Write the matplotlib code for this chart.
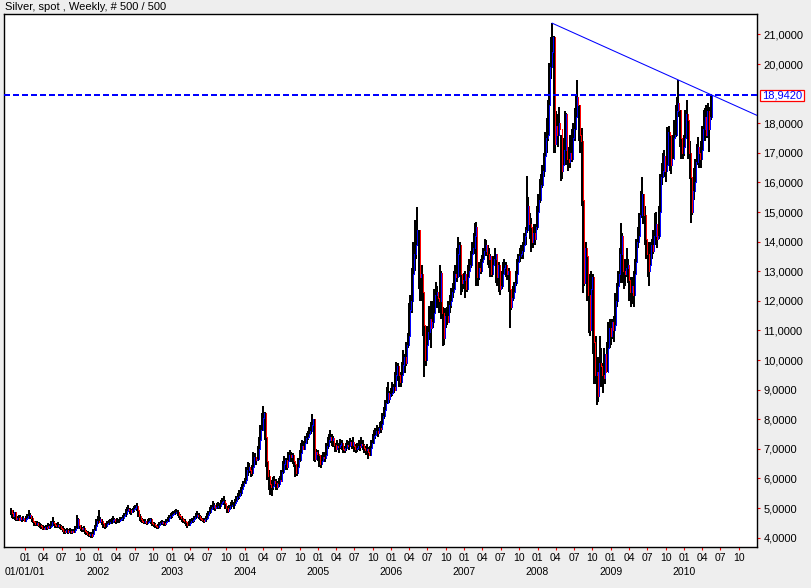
import numpy as np
import pandas as pd
import matplotlib
matplotlib.use('Agg')
import matplotlib.pyplot as plt
from matplotlib.patches import Rectangle

plt.rcParams['font.family'] = ['Liberation Sans', 'DejaVu Sans']

# weekly bars (high, low, close), weeks ending on Friday, first week 2000-10-20
w2000 = [(5.00,4.78,4.82),(4.90,4.66,4.72),(4.95,4.62,4.86),(4.86,4.60,4.64),(4.75,4.58,4.68),(4.72,4.55,4.60),
         (4.78,4.56,4.70),(4.76,4.58,4.62),(4.70,4.52,4.66),(4.72,4.55,4.58),(4.68,4.52,4.62)]
w2001 = [(4.72,4.55,4.66),(4.80,4.60,4.75),(4.95,4.68,4.78),(4.84,4.62,4.66),(4.72,4.52,4.58),(4.64,4.48,4.52),(4.58,4.40,4.46),(4.55,4.38,4.50),(4.56,4.40,4.44),(4.52,4.36,4.42),
         (4.50,4.32,4.38),(4.46,4.28,4.34),(4.42,4.26,4.30),(4.40,4.25,4.36),(4.44,4.28,4.34),(4.42,4.27,4.38),(4.48,4.30,4.36),(4.45,4.30,4.40),(4.58,4.36,4.52),(4.70,4.45,4.50),
         (4.58,4.38,4.42),(4.50,4.33,4.38),(4.48,4.32,4.44),(4.52,4.34,4.38),(4.46,4.30,4.34),(4.42,4.26,4.30),(4.38,4.20,4.24),(4.32,4.14,4.18),(4.30,4.12,4.26),(4.34,4.16,4.20),
         (4.30,4.12,4.24),(4.32,4.15,4.18),(4.28,4.12,4.22),(4.30,4.14,4.20),(4.30,4.15,4.26),(4.40,4.20,4.34),(4.76,4.30,4.62),(4.65,4.38,4.44),(4.50,4.28,4.34),(4.42,4.22,4.28),
         (4.36,4.18,4.32),(4.40,4.20,4.24),(4.32,4.14,4.18),(4.26,4.08,4.14),(4.22,4.05,4.10),(4.18,4.02,4.12),(4.20,4.00,4.06),(4.16,3.98,4.12),(4.30,4.08,4.26),(4.42,4.22,4.40),
         (4.62,4.36,4.55),(4.74,4.45,4.52)]
w2002 = [(4.92,4.55,4.62),(4.70,4.50,4.55),(4.62,4.42,4.48),(4.55,4.32,4.38),(4.46,4.30,4.40),(4.50,4.34,4.46),(4.55,4.38,4.50),(4.60,4.42,4.54),(4.62,4.45,4.52),(4.66,4.46,4.60),
         (4.72,4.52,4.64),(4.68,4.48,4.55),(4.62,4.46,4.58),(4.66,4.50,4.56),(4.64,4.48,4.60),(4.70,4.52,4.62),(4.70,4.55,4.66),(4.76,4.58,4.72),(4.85,4.64,4.80),(4.96,4.70,4.90),
         (5.05,4.80,4.98),(5.10,4.86,4.92),(5.02,4.80,4.86),(4.98,4.78,4.94),(5.02,4.84,4.96),(5.08,4.88,5.02),(5.12,4.92,5.06),(5.17,4.90,4.94),(4.98,4.70,4.74),(4.80,4.58,4.64),
         (4.72,4.52,4.58),(4.66,4.48,4.52),(4.62,4.45,4.56),(4.64,4.46,4.50),(4.58,4.42,4.54),(4.62,4.46,4.58),(4.68,4.50,4.62),(4.66,4.46,4.50),(4.56,4.40,4.46),(4.52,4.36,4.42),
         (4.50,4.32,4.38),(4.44,4.28,4.36),(4.46,4.30,4.42),(4.52,4.36,4.48),(4.58,4.42,4.54),(4.60,4.44,4.50),(4.56,4.40,4.46),(4.56,4.40,4.52),(4.62,4.46,4.58),(4.70,4.52,4.66),
         (4.78,4.60,4.72),(4.82,4.64,4.76)]
w2003 = [(4.86,4.66,4.80),(4.90,4.72,4.84),(4.94,4.76,4.88),(4.98,4.80,4.86),(4.92,4.72,4.78),(4.86,4.66,4.72),(4.80,4.60,4.66),(4.72,4.54,4.60),(4.66,4.48,4.56),(4.64,4.46,4.52),
         (4.58,4.38,4.42),(4.50,4.34,4.44),(4.56,4.40,4.48),(4.62,4.44,4.56),(4.66,4.48,4.60),(4.68,4.50,4.64),(4.74,4.54,4.70),(4.84,4.62,4.78),(4.90,4.70,4.74),(4.82,4.62,4.68),
         (4.78,4.60,4.64),(4.72,4.56,4.60),(4.68,4.52,4.58),(4.66,4.50,4.62),(4.72,4.54,4.66),(4.82,4.60,4.76),(4.90,4.70,4.86),(5.05,4.80,4.98),(5.12,4.88,5.04),(5.24,4.96,5.10),
         (5.18,4.94,5.02),(5.10,4.90,5.04),(5.16,4.96,5.08),(5.20,4.98,5.06),(5.18,4.96,5.14),(5.28,5.04,5.20),(5.34,5.10,5.24),(5.40,5.12,5.18),(5.26,4.96,5.00),(5.06,4.82,4.90),
         (5.02,4.84,4.96),(5.12,4.90,5.06),(5.20,4.98,5.12),(5.26,5.04,5.10),(5.20,4.98,5.16),(5.30,5.08,5.24),(5.42,5.16,5.36),(5.50,5.26,5.40),(5.62,5.32,5.52),(5.72,5.42,5.64),
         (5.82,5.50,5.74),(5.92,5.62,5.86)]
w2004 = [(6.02,5.80,5.96),(6.40,5.94,6.30),(6.55,6.10,6.40),(6.52,6.20,6.30),(6.40,6.05,6.20),(6.46,6.10,6.40),(6.90,6.36,6.72),(6.86,6.50,6.62),(6.70,6.45,6.66),(7.10,6.60,6.98),
         (7.40,6.95,7.30),(7.80,7.25,7.65),(8.20,7.60,8.05),(8.45,7.90,8.20),(8.25,7.30,7.40),(7.45,6.40,6.60),(6.90,5.95,6.10),(6.30,5.60,5.80),(6.10,5.45,5.70),(5.95,5.42,5.75),
         (6.05,5.62,5.90),(6.08,5.70,5.85),(5.98,5.62,5.72),(5.92,5.60,5.82),(6.02,5.70,5.96),(6.10,5.80,5.92),(6.30,5.88,6.22),(6.60,6.15,6.50),(6.75,6.35,6.62),(6.70,6.30,6.40),
         (6.66,6.30,6.58),(6.90,6.50,6.78),(6.95,6.60,6.72),(6.88,6.55,6.80),(6.86,6.50,6.60),(6.70,6.40,6.48),(6.50,6.06,6.20),(6.45,6.10,6.38),(6.70,6.35,6.62),(6.95,6.55,6.86),
         (7.20,6.80,7.10),(7.30,6.90,7.00),(7.28,6.95,7.20),(7.45,7.10,7.36),(7.55,7.15,7.40),(7.62,7.30,7.50),(7.75,7.40,7.62),(7.90,7.50,7.80),(8.18,7.70,8.00),(8.02,6.60,6.66),
         (7.00,6.55,6.90),(7.00,6.70,6.82),(6.95,6.60,6.78)]
w2005 = [(6.82,6.40,6.50),(6.70,6.34,6.60),(6.80,6.50,6.72),(6.90,6.62,6.70),(6.88,6.55,6.80),(7.20,6.75,7.10),(7.40,7.00,7.30),(7.50,7.15,7.40),(7.64,7.20,7.30),(7.50,7.10,7.36),
         (7.45,7.05,7.12),(7.20,6.90,7.00),(7.18,6.88,7.10),(7.30,6.95,7.05),(7.20,6.85,7.12),(7.35,7.00,7.20),(7.30,6.95,7.00),(7.12,6.86,6.96),(7.10,6.85,7.02),(7.20,6.92,7.14),
         (7.30,7.00,7.10),(7.25,6.95,7.22),(7.36,7.05,7.12),(7.30,7.00,7.24),(7.40,7.05,7.10),(7.20,6.90,6.98),(7.15,6.85,7.04),(7.20,6.90,7.10),(7.30,6.95,7.05),(7.25,6.92,7.18),
         (7.40,7.05,7.12),(7.30,6.95,7.02),(7.15,6.85,6.95),(7.10,6.80,7.00),(7.15,6.82,6.88),(7.05,6.65,6.80),(7.10,6.75,7.02),(7.30,6.95,7.20),(7.50,7.15,7.42),(7.65,7.30,7.48),
         (7.70,7.35,7.60),(7.80,7.45,7.55),(7.75,7.40,7.70),(7.90,7.55,7.68),(7.95,7.55,7.85),(8.20,7.80,8.10),(8.40,8.00,8.30),(8.65,8.20,8.55),(9.10,8.50,8.90),(9.27,8.60,8.70),
         (8.95,8.55,8.85),(9.05,8.75,8.90)]
w2006 = [(9.25,8.80,9.10),(9.20,8.90,9.00),(9.60,8.95,9.50),(9.95,9.30,9.80),(9.90,9.30,9.50),(9.70,9.10,9.25),(9.60,9.10,9.50),(9.95,9.40,9.85),(10.34,9.60,10.10),(10.20,9.55,9.90),
         (10.60,9.80,10.50),(10.90,10.40,10.80),(11.92,10.70,11.70),(12.20,11.50,12.00),(13.10,11.60,12.90),(14.00,12.40,13.60),(14.72,13.00,13.90),(14.70,13.40,14.40),(15.18,13.90,14.40),(14.40,12.40,12.80),
         (13.40,12.00,12.90),(13.20,12.00,12.30),(12.40,10.80,11.20),(11.30,9.44,10.00),(10.70,9.80,10.50),(11.14,10.10,10.95),(11.81,10.68,11.40),(11.80,10.80,11.10),(12.00,10.40,11.30),(12.00,11.10,11.60),
         (12.40,11.60,12.20),(12.65,11.90,12.30),(12.50,11.75,12.10),(12.30,11.60,12.00),(13.22,11.90,12.94),(13.00,11.40,11.60),(11.80,10.46,10.74),(11.75,10.50,11.50),(11.75,11.10,11.50),(11.80,11.20,11.30),
         (12.00,11.30,11.85),(12.20,11.60,12.00),(12.43,11.75,12.30),(12.60,12.10,12.40),(13.00,12.30,12.90),(13.20,12.60,12.80),(13.80,12.65,13.60),(14.17,13.40,13.90),(14.00,12.80,12.90),(13.20,12.20,12.60),
         (12.90,12.30,12.70),(12.95,12.40,12.90)]
w2007 = [(13.00,12.10,12.40),(12.90,12.30,12.80),(13.20,12.70,13.00),(13.40,12.90,13.20),(13.70,13.10,13.60),(14.00,13.40,13.80),(14.30,13.60,14.20),(14.62,14.00,14.50),(14.67,12.50,12.80),(13.30,12.50,13.10),
         (13.30,12.70,13.00),(13.40,12.90,13.30),(13.55,13.00,13.40),(13.80,13.30,13.70),(14.10,13.50,13.90),(14.05,13.50,13.60),(13.90,13.20,13.40),(13.80,13.10,13.50),(13.60,12.80,12.90),(13.30,12.80,13.20),
         (13.50,13.00,13.40),(13.80,13.20,13.60),(13.60,12.60,12.80),(13.30,12.50,13.20),(13.30,12.30,12.40),(12.90,12.20,12.50),(13.00,12.40,12.90),(13.30,12.80,13.10),(13.40,12.90,13.20),(13.30,12.80,12.90),
         (13.20,12.70,13.00),(13.10,12.30,12.40),(12.60,11.08,11.80),(12.30,11.70,12.10),(12.50,12.00,12.30),(12.65,12.10,12.60),(13.00,12.50,12.90),(13.40,12.90,13.30),(13.60,13.20,13.50),(13.80,13.30,13.60),
         (13.90,13.40,13.70),(14.00,13.40,13.90),(14.30,13.80,14.20),(14.50,13.90,14.40),(16.22,14.30,15.20),(15.52,14.40,14.60),(14.96,14.10,14.50),(14.80,13.66,14.00),(14.50,13.80,14.30),(14.60,13.90,14.10),
         (14.60,13.90,14.50),(15.20,14.40,15.00)]
w2008 = [(15.60,14.90,15.40),(16.10,15.30,15.90),(16.30,15.50,15.90),(16.60,15.80,16.40),(17.00,16.20,16.90),(17.70,16.80,17.50),(18.17,17.00,17.60),(18.80,17.40,18.60),(20.03,18.50,19.90),(20.90,19.50,20.40),
         (21.38,20.20,20.90),(20.93,17.00,17.30),(18.60,17.00,17.90),(18.40,17.40,17.60),(18.30,17.20,18.00),(18.56,17.60,17.80),(17.60,16.04,16.40),(16.90,16.10,16.60),(17.50,16.50,17.10),(18.40,16.90,18.30),
         (18.34,16.60,16.80),(17.20,16.40,16.70),(17.20,16.50,17.00),(17.60,16.50,16.80),(17.80,16.70,17.50),(18.00,17.20,17.80),(18.50,17.40,18.20),(19.00,18.00,18.90),(19.46,18.40,18.60),(18.60,17.40,17.60),
         (18.00,17.00,17.40),(17.85,15.20,15.40),(15.70,12.25,12.60),(14.10,12.50,13.80),(14.00,13.20,13.50),(13.60,12.00,12.20),(12.60,10.90,11.00),(12.90,10.80,12.40),(13.00,12.10,12.80),(12.90,10.20,10.60),
         (11.20,9.20,9.50),(10.80,9.20,9.60),(9.90,8.48,8.80),(10.10,8.60,9.90),(10.80,9.40,9.80),(10.40,9.10,9.50),(9.90,8.90,9.40),(10.40,9.20,10.20),(10.20,9.20,9.60),(10.60,9.60,10.40),
         (11.30,10.30,11.10),(11.40,10.40,10.80)]
w2009 = [(11.40,10.50,11.30),(11.40,10.70,11.00),(11.50,10.60,11.20),(12.25,11.10,12.00),(12.60,11.80,12.50),(13.00,12.20,12.90),(13.80,12.60,13.60),(14.62,13.40,14.20),(14.30,12.60,13.00),(13.30,12.40,12.90),
         (13.40,12.50,13.10),(13.80,12.80,13.20),(13.40,12.60,12.70),(13.00,12.00,12.30),(12.80,11.80,12.50),(12.80,11.90,12.20),(13.00,11.80,12.90),(13.40,12.40,13.30),(14.10,13.20,14.00),(14.50,13.80,14.20),
         (14.96,14.00,14.90),(15.70,14.80,15.60),(16.20,15.40,15.60),(15.60,14.60,14.90),(15.20,13.90,14.10),(14.30,13.40,13.60),(14.00,12.80,13.00),(13.40,12.50,13.20),(14.00,13.20,13.90),(14.10,13.40,13.70),
         (14.40,13.60,14.20),(14.96,14.00,14.60),(15.00,13.90,14.10),(14.40,13.80,14.20),(15.20,14.10,15.00),(16.30,14.90,16.20),(16.65,15.90,16.40),(17.00,16.20,16.90),(17.10,16.20,16.40),(16.80,16.00,16.60),
         (17.88,16.50,17.70),(17.90,17.00,17.60),(17.66,16.40,16.60),(17.20,16.30,16.80),(17.60,16.80,17.50),(18.10,17.20,17.60),(18.60,17.55,18.40),(18.90,17.60,18.70),(19.46,18.20,18.45),(18.45,17.20,17.50),
         (17.90,16.80,17.00),(17.40,16.80,17.20)]
w2010 = [(17.60,16.90,17.50),(18.45,17.40,18.30),(18.78,17.80,18.10),(18.20,16.80,17.00),(17.40,16.10,16.20),(16.40,14.62,15.00),(15.90,14.90,15.70),(16.50,15.40,16.00),(16.80,15.80,16.70),(17.30,16.60,17.20),
         (17.55,16.80,17.00),(17.20,16.50,16.80),(17.40,16.50,17.10),(17.90,17.00,17.80),(18.45,17.60,18.20),(18.50,17.40,17.60),(18.60,17.50,18.40),(18.70,17.50,17.80),(18.55,17.04,18.20),(18.95,18.10,18.942)]
first_open = 4.95

y_ticks = [4, 5, 6, 7, 8, 9, 10, 11, 12, 13, 14, 15, 16, 17, 18, 20, 21]
month_labels = ['01', '04', '07', '10']
years = list(range(2001, 2011))

weeks = w2000 + w2001 + w2002 + w2003 + w2004 + w2005 + w2006 + w2007 + w2008 + w2009 + w2010
high = np.array([w[0] for w in weeks])
low = np.array([w[1] for w in weeks])
close = np.array([w[2] for w in weeks])
opn = np.concatenate([[first_open], close[:-1]])
x = np.arange(len(close))
start = pd.Timestamp('2000-10-20')


def week_pos(d):
    return (pd.Timestamp(d) - start).days / 7.0


fig = plt.figure(figsize=(8.11, 5.88), dpi=100, facecolor='#EEEEEE')
ax = fig.add_axes([4 / 811, 1 - 547 / 588, 753 / 811, 533 / 588])
ax.set_facecolor('white')

# bars: black high-low, coloured open-close next to it
ax.vlines(x, low, high, colors='black', linewidth=1.08, antialiased=False, zorder=2)
up = close >= opn
ax.vlines(x[up] + 0.7, opn[up], close[up], colors='#0000FF', linewidth=0.72, antialiased=False, zorder=3)
ax.vlines(x[~up] + 0.7, opn[~up], close[~up], colors='#FF0000', linewidth=0.72, antialiased=False, zorder=3)

x_left, x_right = -4.7, 532.0
ax.set_xlim(x_left, x_right)
ax.set_ylim(3.686, 21.69)

# resistance line through the 2008 top and the Dec 2009 top
i0 = int(np.argmax(high))
i1 = 450 + int(np.argmax(high[450:]))
slope = (high[i1] - high[i0]) / (i1 - i0)
ax.plot([i0, x_right], [high[i0], high[i0] + slope * (x_right - i0)], color='#0000FF', lw=0.75, zorder=4)

# last price
last = close[-1]
ax.axhline(last, color='#0000FF', lw=1.44, linestyle=(0, (2.8, 1.7)), antialiased=False, zorder=4)
ax.add_patch(Rectangle((1.004, last - 0.2), 0.0584, 0.39, transform=ax.get_yaxis_transform(),
                       facecolor='white', edgecolor='#FF0000', lw=0.9, clip_on=False, zorder=10))
ax.text(1.0335, last - 0.01, f"{last:.4f}".replace('.', ','), transform=ax.get_yaxis_transform(),
        ha='center', va='center', color='#0000FF', fontsize=8, zorder=11, clip_on=False)

# y axis on the right
ax.yaxis.tick_right()
ax.set_yticks(y_ticks)
ax.set_yticklabels([f"{v:.4f}".replace('.', ',') for v in y_ticks])
ax.tick_params(axis='y', length=2.5, width=0.8, color='#FF0000', labelcolor='black', pad=2, labelsize=8)

# x axis: quarterly months, years underneath
tick_pos, tick_lab = [], []
for y in years:
    for m, lab in zip([1, 4, 7, 10], month_labels):
        tick_pos.append(week_pos(f"{y}-{m:02d}-01"))
        tick_lab.append(lab)
ax.set_xticks(tick_pos)
ax.set_xticklabels(tick_lab)
ax.tick_params(axis='x', length=2.5, width=0.8, color='#FF0000', labelcolor='black', pad=2, labelsize=7.5)
for y in years:
    lab = '01/01/01' if y == 2001 else str(y)
    ax.annotate(lab, xy=(week_pos(f"{y}-01-01"), 0), xycoords=('data', 'axes fraction'),
                xytext=(0, -25), textcoords='offset pixels', ha='center', va='center', fontsize=7.5)

for s in ax.spines.values():
    s.set_color('black')
    s.set_linewidth(1.0)

fig.text(5 / 811, 1 - 7 / 588, 'Silver, spot , Weekly, # 500 / 500', fontsize=8, ha='left', va='center')

fig.savefig('out.png', dpi=100, facecolor=fig.get_facecolor())
